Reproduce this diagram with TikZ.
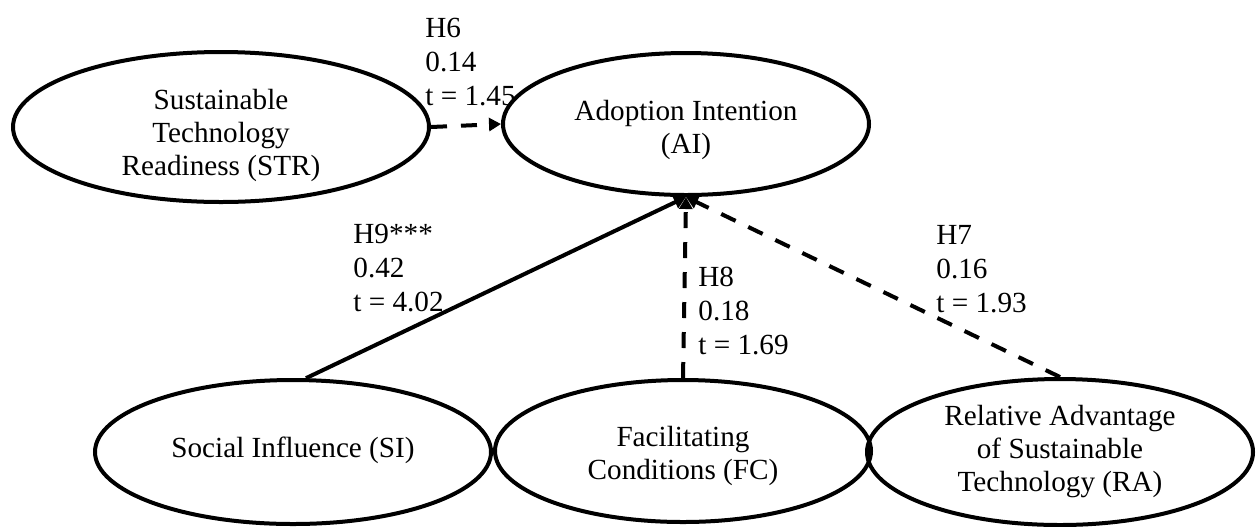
\documentclass[tikz,border=0pt]{standalone}
\usepackage{fontspec}
\setmainfont{Liberation Serif}
\usetikzlibrary{shapes.geometric,arrows.meta}
\begin{document}
\begin{tikzpicture}[x=0.5pt,y=-0.5pt,
  construct/.style={ellipse,draw,line width=2pt,inner sep=0pt},
  caption/.style={inner sep=0pt,align=center,
    font=\fontsize{14.6pt}{16.5pt}\selectfont},
  path/.style={line width=2pt,-{Triangle[length=6pt,width=6.5pt]}},
  weak/.style={path,dash pattern=on 8pt off 7pt},
  est/.style={anchor=north west,inner sep=0pt,align=left,
    font=\fontsize{14.6pt}{17pt}\selectfont}]
\useasboundingbox (0,0) rectangle (1257,526);

% latent constructs
\node[construct,minimum width=208pt,minimum height=75pt] (str) at (221,127) {};
\node[construct,minimum width=183pt,minimum height=71pt] (ai) at (686,124) {};
\node[construct,minimum width=198pt,minimum height=72pt] (si) at (293,452) {};
\node[construct,minimum width=188pt,minimum height=71pt] (fc) at (683,451) {};
\node[construct,minimum width=193pt,minimum height=73pt] (ra) at (1060,452) {};

% construct names
\node[caption] (strname) at ([yshift=-4pt]str.center)
  {Sustainable\\Technology\\Readiness (STR)};
\node[caption] (ainame) at ([yshift=-3pt]ai.center) {Adoption Intention\\(AI)};
\node[caption] (siname) at ([yshift=1pt]si.center) {Social Influence (SI)};
\node[caption] (fcname) at ([yshift=-2.5pt]fc.center) {Facilitating\\Conditions (FC)};
\node[caption] (raname) at ([yshift=0pt]ra.center)
  {Relative Advantage\\of Sustainable\\Technology (RA)};

% structural paths
\draw[weak] (str.east) -- (ai.west);
\draw[path] (si.80) -- (ai.south);
\draw[weak] (fc.north) -- (ai.south);
\draw[weak] (ra.north) -- (ai.south);

% path estimates
\node[est] (h6) at (425,18) {H6\\0.14\\t = 1.45};
\node[est] (h9) at (353,224) {H9***\\0.42\\t = 4.02};
\node[est] (h8) at (698,267) {H8\\0.18\\t = 1.69};
\node[est] (h7) at (936,225) {H7\\0.16\\t = 1.93};
\end{tikzpicture}
\end{document}
